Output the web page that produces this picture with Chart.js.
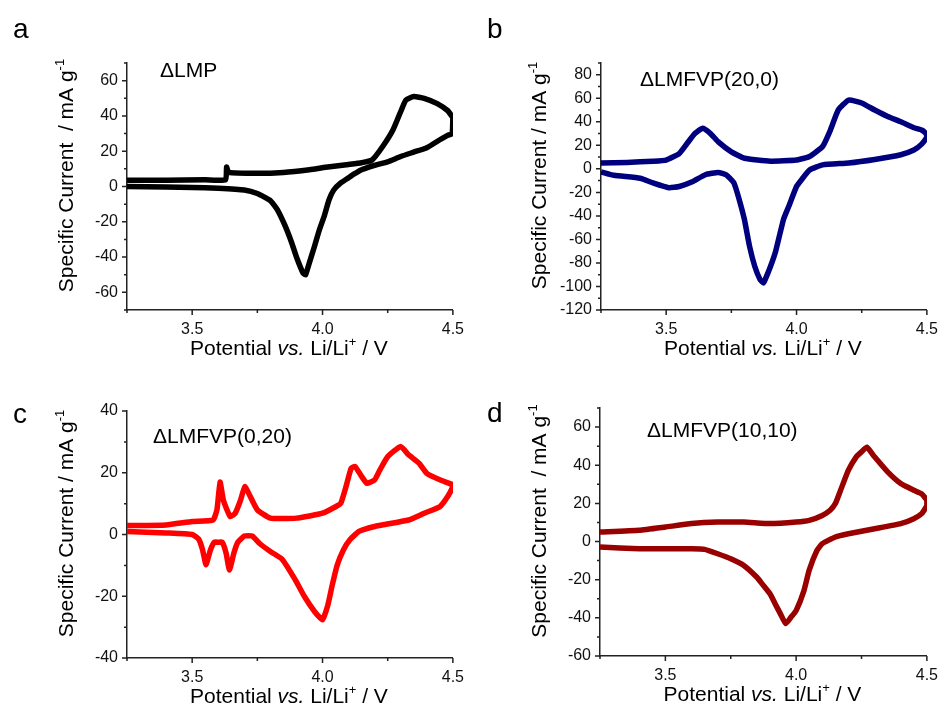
<!DOCTYPE html>
<html>
<head>
<meta charset="utf-8">
<script src="https://cdn.jsdelivr.net/npm/chart.js@4.4.1/dist/chart.umd.min.js"></script>
<style>
  body { margin: 0; background: #fff; width: 948px; height: 709px; position: relative; overflow: hidden; }
  canvas { position: absolute; }
</style>
</head>
<body>
<canvas id="cvA" width="474" height="370" style="left:0;top:0"></canvas>
<canvas id="cvB" width="474" height="370" style="left:474px;top:0"></canvas>
<canvas id="cvC" width="474" height="339" style="left:0;top:370px"></canvas>
<canvas id="cvD" width="474" height="339" style="left:474px;top:370px"></canvas>
<script>
// panel a: dLMP
const aOxV  = [3.25, 3.40, 3.55, 3.628, 3.632, 3.64, 3.75, 3.85, 3.95, 4.02, 4.10, 4.15, 4.19, 4.23, 4.27, 4.30, 4.32, 4.35, 4.39, 4.44, 4.48, 4.50];
const aOxI  = [3.5, 3.5, 3.8, 3.8, 11, 8, 7.5, 8, 9.5, 11, 12.5, 13.5, 15, 22.5, 32, 42.5, 49, 51, 50, 47, 43, 39];
const aRedV = [4.50, 4.497, 4.48, 4.45, 4.40, 4.35, 4.30, 4.25, 4.20, 4.15, 4.12, 4.10, 4.07, 4.043, 4.025, 4.006, 3.988, 3.969, 3.95, 3.935, 3.925, 3.90, 3.882, 3.857, 3.826, 3.80, 3.75, 3.70, 3.60, 3.50, 3.40, 3.25];
const aRedI = [39, 30, 29, 26.5, 22, 19.5, 17, 14, 12, 9.5, 7, 5, 2, -2, -7.5, -17, -24.5, -34, -43, -50, -49, -40, -32, -22.5, -13, -8, -4, -2, -1, -0.5, -0.3, 0];

// panel b: dLMFVP(20,0)
const bOxV  = [3.25, 3.35, 3.45, 3.50, 3.55, 3.58, 3.61, 3.64, 3.67, 3.70, 3.75, 3.80, 3.90, 4.00, 4.05, 4.10, 4.13, 4.16, 4.20, 4.25, 4.30, 4.35, 4.40, 4.45, 4.48, 4.50];
const bOxI  = [5, 5.5, 6.5, 7.5, 13, 21.5, 30, 34.5, 30, 23, 14.5, 9, 6.5, 7.5, 10.5, 19, 33, 50, 58.5, 56, 50, 44.5, 40, 35, 33, 29];
const bRedV = [4.50, 4.48, 4.45, 4.40, 4.30, 4.20, 4.10, 4.05, 4.02, 4.00, 3.97, 3.95, 3.92, 3.90, 3.88, 3.873, 3.86, 3.84, 3.82, 3.80, 3.78, 3.76, 3.73, 3.70, 3.65, 3.60, 3.55, 3.51, 3.45, 3.40, 3.30, 3.25];
const bRedI = [27, 21, 16, 12, 8, 5, 3.4, -1, -9, -15, -32, -43, -70, -83, -94, -97, -94, -83, -66, -43, -26, -12, -5, -3, -5, -11, -15, -16, -12, -8, -5.5, -2.5];

// panel c: dLMFVP(0,20)
const cOxV  = [3.25, 3.40, 3.50, 3.58, 3.595, 3.607, 3.62, 3.646, 3.665, 3.685, 3.702, 3.72, 3.75, 3.80, 3.90, 4.00, 4.05, 4.07, 4.09, 4.11, 4.125, 4.15, 4.17, 4.20, 4.22, 4.25, 4.30, 4.33, 4.37, 4.40, 4.45, 4.50];
const cOxI  = [2.9, 3.1, 4.2, 4.7, 8, 17, 11, 5.8, 6.9, 11, 15.5, 12.8, 8, 5.3, 5.3, 6.9, 9, 10.1, 15.5, 21.5, 22, 18.8, 16.6, 17.7, 20.9, 25.2, 28.5, 25.8, 23.1, 19.8, 17.7, 16.1];
const cRedV = [4.50, 4.48, 4.45, 4.39, 4.33, 4.20, 4.14, 4.105, 4.08, 4.056, 4.037, 4.02, 4.00, 3.97, 3.93, 3.895, 3.845, 3.80, 3.76, 3.73, 3.70, 3.675, 3.66, 3.643, 3.63, 3.615, 3.60, 3.585, 3.57, 3.553, 3.54, 3.525, 3.50, 3.40, 3.25];
const cRedI = [15.5, 12.3, 9, 6.9, 4.7, 2.6, 1, -1.7, -5, -10, -16.5, -23, -27.6, -25, -20, -14.6, -8, -5.5, -3, -0.5, -0.5, -2.5, -6, -11.5, -6, -2.5, -2.5, -2.5, -5, -9.8, -5, -1.5, 0, 0.5, 1];

// panel d: dLMFVP(10,10)
const dOxV  = [3.25, 3.40, 3.50, 3.60, 3.70, 3.80, 3.90, 4.00, 4.05, 4.10, 4.13, 4.15, 4.17, 4.20, 4.23, 4.25, 4.27, 4.30, 4.35, 4.40, 4.45, 4.48, 4.50];
const dOxI  = [5, 5.9, 7.6, 9.4, 10.2, 10.2, 9.4, 10.2, 11.1, 13.7, 16.4, 19.9, 26.9, 37.4, 44.4, 47, 49.5, 44.4, 36.5, 30.4, 26.9, 25, 21.6];
const dRedV = [4.50, 4.48, 4.45, 4.40, 4.30, 4.20, 4.15, 4.10, 4.08, 4.05, 4.03, 4.00, 3.98, 3.96, 3.94, 3.92, 3.90, 3.87, 3.85, 3.80, 3.75, 3.70, 3.65, 3.60, 3.50, 3.40, 3.25];
const dRedI = [18.9, 14.6, 12, 9.4, 6.7, 4.1, 2.4, -1.1, -4.6, -15, -25.7, -36.2, -39.7, -43, -37.9, -32.7, -27.4, -22.2, -18.7, -12.5, -9, -6.4, -4.1, -3.8, -3.8, -3.8, -2.9];

const FONT = '"Liberation Sans", Arial, sans-serif';

function loop(oxV, oxI, redV, redI) {
  const pts = oxV.map((v, i) => ({ x: v, y: oxI[i] }));
  return pts.concat(redV.map((v, i) => ({ x: v, y: redI[i] })));
}

// text with italic / superscript runs, centred on x
function richText(ctx, parts, size, x, y) {
  let w = 0;
  const runs = parts.map(([t, kind]) => {
    const s = kind === 'sup' ? Math.round(size * 0.6) : size;
    const f = (kind === 'italic' ? 'italic ' : '') + s + 'px ' + FONT;
    ctx.font = f;
    const rw = ctx.measureText(t).width;
    w += rw;
    return { t, f, rw, dy: kind === 'sup' ? -size * 0.42 : 0 };
  });
  let cx = x - w / 2;
  runs.forEach(r => { ctx.font = r.f; ctx.fillText(r.t, cx, y + r.dy); cx += r.rw; });
}

const panelDeco = {
  id: 'panelDeco',
  afterDraw(chart, args, o) {
    const { ctx, chartArea: ca } = chart;
    const xs = chart.scales.x, ys = chart.scales.y;
    ctx.save();
    ctx.strokeStyle = '#222';
    ctx.lineWidth = 1.5;
    ctx.beginPath();
    ys.ticks.forEach(t => {
      const py = ys.getPixelForValue(t.value);
      const len = t.value % 20 === 0 ? 5 : 3;
      ctx.moveTo(ca.left - len, py); ctx.lineTo(ca.left, py);
    });
    xs.ticks.forEach(t => {
      const px = xs.getPixelForValue(t.value);
      const len = Math.abs(t.value * 2 - Math.round(t.value * 2)) < 1e-6 ? 5 : 3;
      ctx.moveTo(px, ca.bottom); ctx.lineTo(px, ca.bottom + len);
    });
    ctx.stroke();

    ctx.fillStyle = '#000';
    ctx.textBaseline = 'alphabetic';
    ctx.textAlign = 'left';
    ctx.font = '28px ' + FONT;
    ctx.fillText(o.letter, 13, o.letterY);
    ctx.font = '21px ' + FONT;
    ctx.fillText(o.label, o.labelX, o.labelY);

    richText(ctx, [['Potential ', ''], ['vs.', 'italic'], [' Li/Li', ''], ['+', 'sup'], [' / V', '']],
      21, (ca.left + ca.right) / 2 - 1, ca.bottom + 45);

    ctx.translate(o.yTitleX, (ca.top + ca.bottom) / 2 - 11);
    ctx.rotate(-Math.PI / 2);
    richText(ctx, [[o.yTitle, ''], ['-1', 'sup']], 21, 0, 0);
    ctx.restore();
  }
};

function makePanel(id, data, color, yMin, yMax, box, deco) {
  new Chart(document.getElementById(id), {
    type: 'scatter',
    data: {
      datasets: [{
        data: data,
        showLine: true,
        borderColor: color,
        borderWidth: 5.5,
        pointRadius: 0,
        tension: 0.15,
        fill: false
      }]
    },
    options: {
      responsive: false,
      devicePixelRatio: 1,
      animation: false,
      layout: { padding: { top: box.top, right: box.right, left: 0, bottom: 0 } },
      plugins: { legend: { display: false }, tooltip: { enabled: false }, panelDeco: deco },
      scales: {
        x: {
          type: 'linear', min: 3.25, max: 4.5,
          grid: { display: false, drawTicks: false },
          border: { display: true, color: '#222', width: 1.5 },
          ticks: {
            stepSize: 0.25, autoSkip: false, maxRotation: 0, padding: 10,
            color: '#111', font: { family: FONT, size: 16 },
            callback: v => Math.abs(v * 2 - Math.round(v * 2)) < 1e-6 ? v.toFixed(1) : ''
          },
          afterFit: s => { s.height = box.bottom; }
        },
        y: {
          type: 'linear', min: yMin, max: yMax,
          grid: { display: false, drawTicks: false },
          border: { display: true, color: '#222', width: 1.5 },
          ticks: {
            stepSize: 10, autoSkip: false, padding: 9,
            color: '#111', font: { family: FONT, size: 16 },
            callback: v => v % 20 === 0 ? String(v) : ''
          },
          afterFit: s => { s.width = box.left; }
        }
      }
    },
    plugins: [panelDeco]
  });
}

makePanel('cvA', loop(aOxV, aOxI, aRedV, aRedI), '#000000', -70, 70,
  { left: 127, top: 63, right: 12, bottom: 60 },
  { letter: 'a', letterY: 38, label: '\u0394LMP', labelX: 160, labelY: 77, yTitleX: 73, yTitle: 'Specific Current  / mA g' });
makePanel('cvB', loop(bOxV, bOxI, bRedV, bRedI), '#00007f', -120, 90,
  { left: 127, top: 63, right: 13, bottom: 60 },
  { letter: 'b', letterY: 38, label: '\u0394LMFVP(20,0)', labelX: 166, labelY: 86, yTitleX: 72, yTitle: 'Specific Current / mA g' });
makePanel('cvC', loop(cOxV, cOxI, cRedV, cRedI), '#ff0000', -40, 40,
  { left: 127, top: 41, right: 12, bottom: 51 },
  { letter: 'c', letterY: 53, label: '\u0394LMFVP(0,20)', labelX: 153, labelY: 73, yTitleX: 73, yTitle: 'Specific Current / mA g' });
makePanel('cvD', loop(dOxV, dOxI, dRedV, dRedI), '#990000', -60, 70,
  { left: 126, top: 38, right: 14, bottom: 53 },
  { letter: 'd', letterY: 52, label: '\u0394LMFVP(10,10)', labelX: 173, labelY: 67, yTitleX: 72, yTitle: 'Specific Current  / mA g' });
</script>
</body>
</html>
